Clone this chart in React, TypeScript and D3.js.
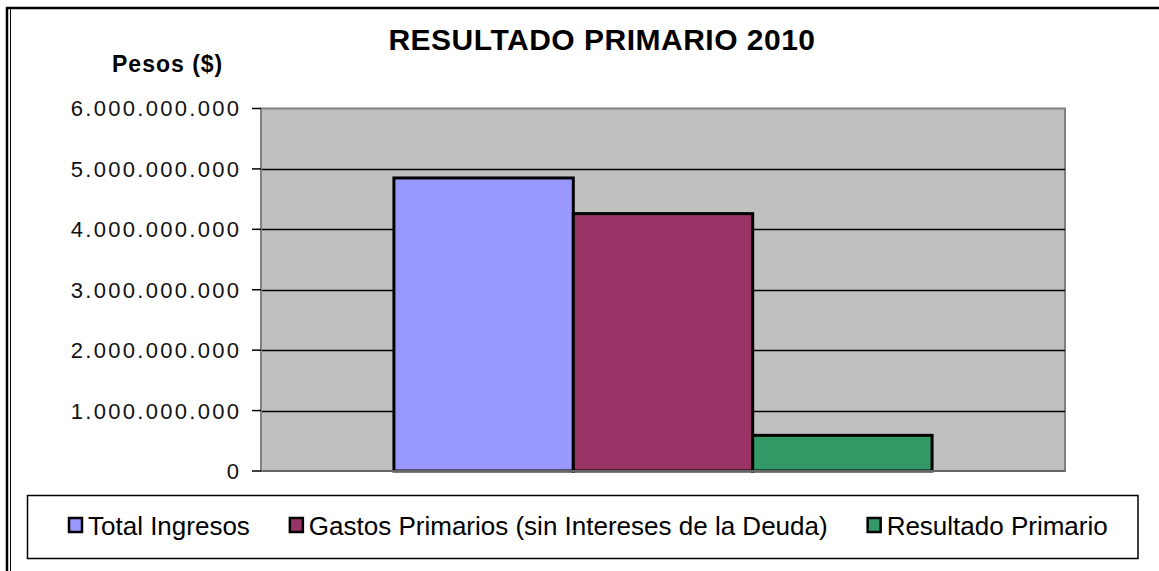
import React from "react";
import * as d3 from "d3";

// Chart data
const categories = ["2010"];
const seriesNames = [
  "Total Ingresos",
  "Gastos Primarios (sin Intereses de la Deuda)",
  "Resultado Primario",
];
const seriesValues = [4850000000, 4260000000, 590000000];
const seriesColors = ["#9999FF", "#993366", "#339966"];
const yTicks = [0, 1e9, 2e9, 3e9, 4e9, 5e9, 6e9];

const FONT = "'Liberation Sans', Arial, sans-serif";

const width = 1159;
const height = 571;
const plot = { left: 261, right: 1065, top: 108.5, bottom: 471 };

const fmt = d3
  .formatLocale({ decimal: ",", thousands: ".", grouping: [3], currency: ["$", ""] })
  .format(",.0f");

// measure legend labels so the items can be laid out one after another
function textWidth(s: string, size: number) {
  const c = document.createElement("canvas").getContext("2d");
  if (!c) return s.length * size * 0.5;
  c.font = size + "px " + FONT;
  return c.measureText(s).width;
}

export default function App() {
  const y = d3.scaleLinear().domain([0, 6e9]).range([plot.bottom, plot.top]);

  const x0 = d3
    .scaleBand()
    .domain(categories)
    .range([plot.left, plot.right])
    .paddingInner(0)
    .paddingOuter(0.247);
  const x1 = d3.scaleBand().domain(seriesNames).range([0, x0.bandwidth()]);

  // legend layout
  const legendSize = 26;
  let cursor = 68;
  const legendItems = seriesNames.map((name, i) => {
    const item = { name, color: seriesColors[i], x: cursor };
    cursor += 20 + textWidth(name, legendSize) + 39;
    return item;
  });

  const tickLs = 2.3;

  return (
    <svg
      width={width}
      height={height}
      style={{ position: "absolute", left: 0, top: 0, background: "#fff" }}
      fontFamily={FONT}
    >
      {/* outer frame */}
      <line x1={6} x2={width} y1={8} y2={8} stroke="#000" strokeWidth={2.5} />
      <line x1={7} x2={7} y1={7} y2={height} stroke="#000" strokeWidth={2.5} />
      <line x1={10.5} x2={10.5} y1={9} y2={height} stroke="#000" strokeWidth={1} />

      {/* title */}
      <text
        x={602}
        y={50}
        textAnchor="middle"
        fontSize={30}
        fontWeight="bold"
        letterSpacing={0.5}
      >
        RESULTADO PRIMARIO 2010
      </text>
      <text x={112} y={72} fontSize={23} fontWeight="bold" letterSpacing={1}>
        Pesos ($)
      </text>

      {/* plot area */}
      <rect
        x={plot.left}
        y={plot.top}
        width={plot.right - plot.left}
        height={plot.bottom - plot.top}
        fill="#C0C0C0"
        stroke="#808080"
        strokeWidth={2}
      />
      {yTicks
        .filter((t) => t > 0 && t < 6e9)
        .map((t) => (
          <line
            key={"g" + t}
            x1={plot.left}
            x2={plot.right}
            y1={Math.round(y(t)) + 0.5}
            y2={Math.round(y(t)) + 0.5}
            stroke="#000"
            strokeWidth={1.5}
          />
        ))}

      {/* bars */}
      {categories.map((c) => (
        <g key={c} transform={`translate(${x0(c)},0)`}>
          {seriesNames.map((s, i) => (
            <rect
              key={s}
              x={x1(s)}
              y={y(seriesValues[i])}
              width={x1.bandwidth()}
              height={y(0) - y(seriesValues[i])}
              fill={seriesColors[i]}
              stroke="#000"
              strokeWidth={3}
            />
          ))}
        </g>
      ))}

      {/* y axis */}
      <line x1={plot.left} x2={plot.left} y1={plot.top} y2={plot.bottom} stroke="#808080" strokeWidth={2} />
      <line x1={plot.left} x2={plot.right} y1={plot.bottom} y2={plot.bottom} stroke="#666" strokeWidth={2} />
      {yTicks.map((t) => (
        <g key={"t" + t}>
          <line x1={252} x2={plot.left} y1={y(t)} y2={y(t)} stroke="#000" strokeWidth={1.5} />
          <text
            x={239 + tickLs}
            y={y(t)}
            dy="0.36em"
            textAnchor="end"
            fontSize={22}
            letterSpacing={tickLs}
            fill="#111"
          >
            {fmt(t)}
          </text>
        </g>
      ))}

      {/* legend */}
      <rect x={27.5} y={495.5} width={1110.5} height={63} fill="#fff" stroke="#000" strokeWidth={1.5} />
      {legendItems.map((it) => (
        <g key={it.name}>
          <rect x={it.x + 1} y={518} width={13} height={14} fill={it.color} stroke="#000" strokeWidth={2.5} />
          <text x={it.x + 20} y={535} fontSize={legendSize} fill="#000">
            {it.name}
          </text>
        </g>
      ))}
    </svg>
  );
}
